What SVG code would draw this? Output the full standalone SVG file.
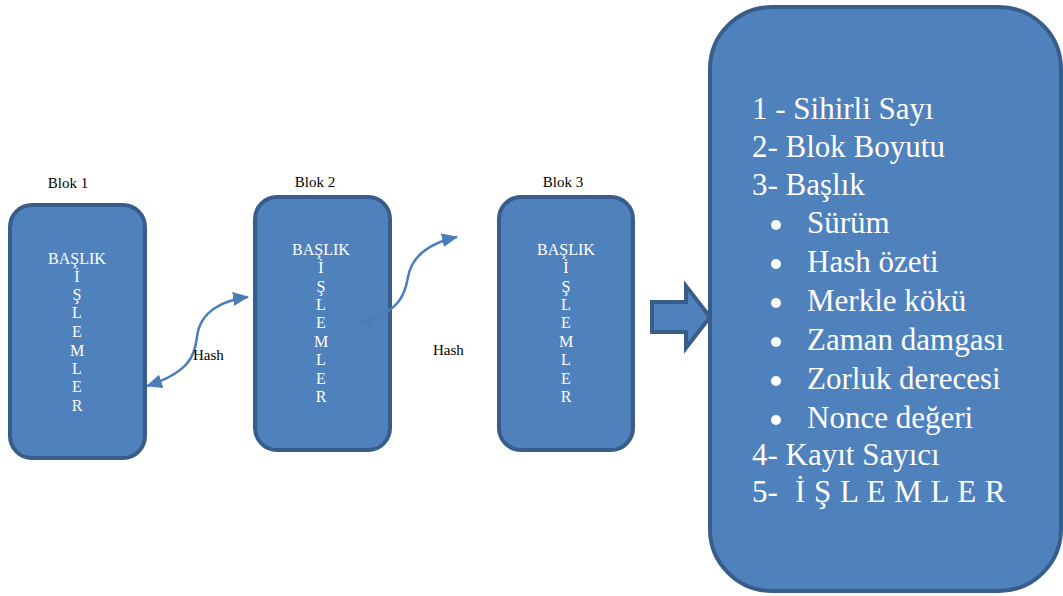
<svg xmlns="http://www.w3.org/2000/svg" width="1063" height="596" viewBox="0 0 1063 596">
<style>
.box{fill:#4f81bd;stroke:#385d8a;stroke-width:4}
.lbl{font-family:"Liberation Serif","Times New Roman",serif;font-size:15px;fill:#000}
.in{font-family:"Liberation Serif","Times New Roman",serif;font-size:16px;fill:#fff;text-anchor:middle}
.big{font-family:"Liberation Serif","Times New Roman",serif;font-size:31px;fill:#fff}
.conn{fill:none;stroke:#4a7ebb;stroke-width:2.5}
</style>
<defs>
<marker id="ah" markerUnits="userSpaceOnUse" markerWidth="16" markerHeight="14" refX="15" refY="7" orient="auto-start-reverse">
<path d="M0,0 L16,7 L0,14 Z" fill="#4a7ebb"/>
</marker>
</defs>
<rect width="1063" height="596" fill="#fff"/>
<g id="blok1">
<text class="lbl" x="68" y="188" text-anchor="middle">Blok 1</text>
<rect class="box" x="10" y="205" width="135" height="253" rx="22"/>
<text class="in" x="77" y="264">BAŞLIK</text>
<text class="in" x="77" y="282">İ</text>
<text class="in" x="77" y="300">Ş</text>
<text class="in" x="77" y="318">L</text>
<text class="in" x="77" y="337">E</text>
<text class="in" x="77" y="356">M</text>
<text class="in" x="77" y="374">L</text>
<text class="in" x="77" y="392">E</text>
<text class="in" x="77" y="411">R</text>
</g>
<g id="blok2">
<text class="lbl" x="315" y="187" text-anchor="middle">Blok 2</text>
<rect class="box" x="255" y="197" width="135" height="253" rx="22"/>
<text class="in" x="321" y="255">BAŞLIK</text>
<text class="in" x="321" y="273">İ</text>
<text class="in" x="321" y="292">Ş</text>
<text class="in" x="321" y="310">L</text>
<text class="in" x="321" y="328">E</text>
<text class="in" x="321" y="347">M</text>
<text class="in" x="321" y="365">L</text>
<text class="in" x="321" y="384">E</text>
<text class="in" x="321" y="402">R</text>
</g>
<g id="blok3">
<text class="lbl" x="563" y="187" text-anchor="middle">Blok 3</text>
<rect class="box" x="499" y="197" width="134" height="253" rx="22"/>
<text class="in" x="566" y="255">BAŞLIK</text>
<text class="in" x="566" y="273">İ</text>
<text class="in" x="566" y="292">Ş</text>
<text class="in" x="566" y="310">L</text>
<text class="in" x="566" y="328">E</text>
<text class="in" x="566" y="347">M</text>
<text class="in" x="566" y="365">L</text>
<text class="in" x="566" y="384">E</text>
<text class="in" x="566" y="402">R</text>
</g>
<g id="buyuk-ok">
<path class="box" d="M652,302 L686,302 L686,286 L710,317 L686,348 L686,332 L652,332 Z"/>
</g>
<g id="detay">
<rect class="box" x="710" y="7" width="351" height="584" rx="62"/>
<text class="big" x="752" y="119">1 - Sihirli Sayı</text>
<text class="big" x="752" y="157">2- Blok Boyutu</text>
<text class="big" x="752" y="195">3- Başlık</text>
<circle cx="776" cy="225" r="5" fill="#fff"/>
<text class="big" x="807" y="233">Sürüm</text>
<circle cx="776" cy="264" r="5" fill="#fff"/>
<text class="big" x="807" y="272">Hash özeti</text>
<circle cx="776" cy="303" r="5" fill="#fff"/>
<text class="big" x="807" y="311">Merkle kökü</text>
<circle cx="776" cy="342" r="5" fill="#fff"/>
<text class="big" x="807" y="350">Zaman damgası</text>
<circle cx="776" cy="381" r="5" fill="#fff"/>
<text class="big" x="807" y="389">Zorluk derecesi</text>
<circle cx="776" cy="420" r="5" fill="#fff"/>
<text class="big" x="807" y="428">Nonce değeri</text>
<text class="big" x="752" y="465">4- Kayıt Sayıcı</text>
<text class="big" x="752" y="502">5-</text>
<text class="big" x="795" y="502" letter-spacing="0.5">İ Ş L E M L E R</text>
</g>
<g id="connectors">
<path class="conn" d="M147,386 C190,372 195,355 197,337 C200,310 225,300 248,297" marker-start="url(#ah)" marker-end="url(#ah)"/>
<path class="conn" d="M358,324 C400,312 405,295 408,277 C412,255 430,243 457,237" marker-start="url(#ah)" marker-end="url(#ah)"/>
<text class="lbl" x="193" y="360">Hash</text>
<text class="lbl" x="433" y="355">Hash</text>
</g>
</svg>
